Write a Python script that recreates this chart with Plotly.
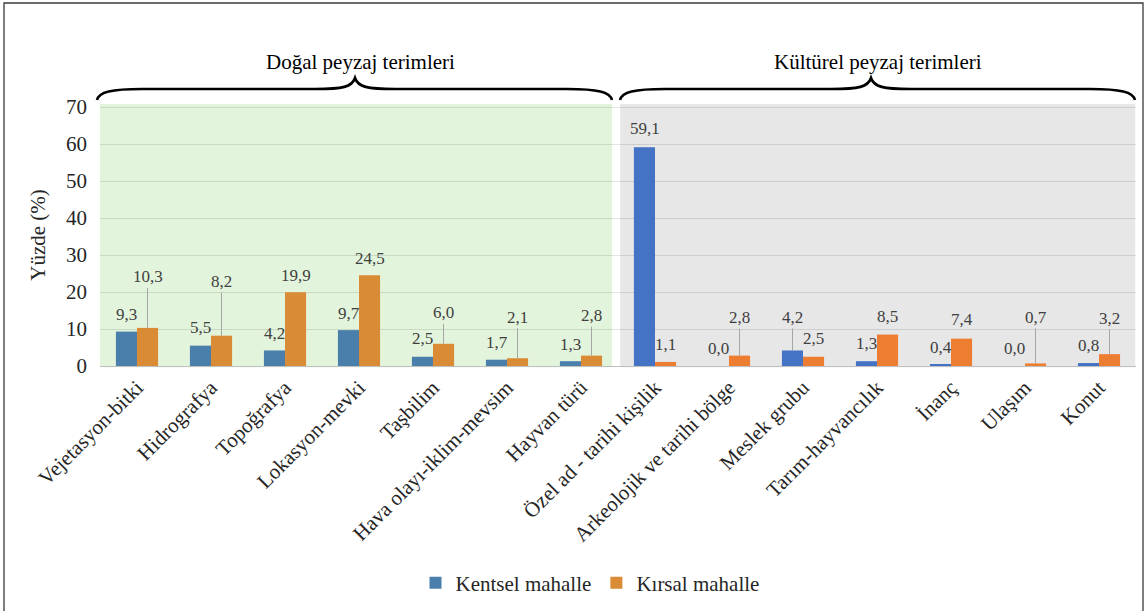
import plotly.graph_objects as go

categories = ["Vejetasyon-bitki", "Hidrografya", "Topoğrafya", "Lokasyon-mevki", "Taşbilim",
              "Hava olayı-iklim-mevsim", "Hayvan türü", "Özel ad - tarihi kişilik",
              "Arkeolojik ve tarihi bölge", "Meslek grubu", "Tarım-hayvancılık", "İnanç",
              "Ulaşım", "Konut"]
kentsel = [9.3, 5.5, 4.2, 9.7, 2.5, 1.7, 1.3, 59.1, 0.0, 4.2, 1.3, 0.4, 0.0, 0.8]
kirsal = [10.3, 8.2, 19.9, 24.5, 6.0, 2.1, 2.8, 1.1, 2.8, 2.5, 8.5, 7.4, 0.7, 3.2]
group_titles = ["Doğal peyzaj terimleri", "Kültürel peyzaj terimleri"]
y_ticks = [0, 10, 20, 30, 40, 50, 60, 70]

# label placement (pixels above bar top; leader line when large)
off_k = [17, 18, 17, 17, 18, 17, 17, 19, 18, 33, 18, 17, 18, 18]
off_r = [51, 54, 17, 17, 31, 41, 40, 17, 38, 18, 18, 19, 46, 36]
leader_k = [False] * 9 + [True] + [False] * 4
leader_r = [True, True, False, False, True, True, True, False, True, False, False, False, True, True]

SERIF = "Liberation Serif, Times New Roman, DejaVu Serif, serif"

W, H = 1146, 611
L, R = 100, 1136
T, B = 104, 366
PH = B - T


def px(X):
    return (X - L) / (R - L)


def py(Y):
    return (B - Y) / PH


def fmt(v):
    return f"{v:.1f}".replace(".", ",")


col_k = ["#4a7fab"] * 7 + ["#4472c4"] * 7
col_r = ["#d98b35"] * 7 + ["#ed7d31"] * 7

fig = go.Figure()
fig.add_bar(x=categories, y=kentsel, name="Kentsel mahalle", marker=dict(color=col_k, line=dict(width=0)))
fig.add_bar(x=categories, y=kirsal, name="Kırsal mahalle", marker=dict(color=col_r, line=dict(width=0)))

shapes = []
n = len(categories)
# background regions
shapes.append(dict(type="rect", xref="x", yref="paper", x0=-0.54, x1=6.42, y0=-0.005, y1=1.0,
                   fillcolor="#e3f4dc", line=dict(width=0), layer="below"))
shapes.append(dict(type="rect", xref="x", yref="paper", x0=6.53, x1=13.49, y0=-0.005, y1=1.0,
                   fillcolor="#e7e7e7", line=dict(width=0), layer="below"))


def brace(x0, x1, xm):
    yb, yf, yp = 100, 89, 78
    pts = [("M", [(x0, yb)]),
           ("C", [(x0 + 2, 92), (x0 + 14, yf), (x0 + 45, yf)]),
           ("L", [(xm - 40, yf)]),
           ("C", [(xm - 12, yf), (xm - 3, 87), (xm, yp)]),
           ("C", [(xm + 3, 87), (xm + 12, yf), (xm + 40, yf)]),
           ("L", [(x1 - 45, yf)]),
           ("C", [(x1 - 14, yf), (x1 - 2, 92), (x1, yb)])]
    s = ""
    for cmd, p in pts:
        s += cmd + " " + " ".join(f"{px(a):.5f},{py(b):.5f}" for a, b in p) + " "
    return dict(type="path", xref="paper", yref="paper", path=s.strip(),
                line=dict(color="black", width=2.6), fillcolor="rgba(0,0,0,0)")


shapes.append(brace(97, 612, 355))
shapes.append(brace(620, 1135, 871))
# outer frame
shapes.append(dict(type="rect", xref="paper", yref="paper", x0=px(4), x1=px(1143), y0=py(3), y1=py(640),
                   line=dict(color="#3a3a3a", width=1.3), fillcolor="rgba(0,0,0,0)"))

annotations = []
lab_font = dict(family=SERIF, size=17, color="#404040")
for i, c in enumerate(categories):
    for val, off, lead, xs in ((kentsel[i], off_k[i], leader_k[i], -10.5), (kirsal[i], off_r[i], leader_r[i], 10.5)):
        if lead:
            annotations.append(dict(x=c, y=val, xref="x", yref="y", text=fmt(val), showarrow=True,
                                    ax=0, ay=-off, arrowhead=0, arrowwidth=1, arrowcolor="#a6a6a6",
                                    standoff=0, xshift=xs, font=lab_font))
        else:
            annotations.append(dict(x=c, y=val, xref="x", yref="y", text=fmt(val), showarrow=False,
                                    yshift=off, xshift=xs, font=lab_font))

for title, cx in zip(group_titles, (360, 878)):
    annotations.append(dict(x=px(cx), y=py(62), xref="paper", yref="paper", text=title,
                            xanchor="center", yanchor="middle", showarrow=False,
                            font=dict(family=SERIF, size=21, color="black")))

fig.update_layout(
    width=W, height=H,
    margin=dict(l=L, r=W - R, t=T, b=H - B, autoexpand=False),
    paper_bgcolor="white", plot_bgcolor="white",
    barmode="group", bargap=0.43, bargroupgap=0,
    font=dict(family=SERIF, size=21, color="#262626"),
    shapes=shapes, annotations=annotations,
    legend=dict(orientation="h", x=px(590), xanchor="center", y=py(583), yanchor="middle",
                font=dict(family=SERIF, size=21, color="#262626"),
                itemwidth=30, traceorder="normal"),
    showlegend=True,
)
fig.update_xaxes(type="category", tickangle=-45, showgrid=False, showline=True, linecolor="#bfbfbf",
                 linewidth=1, ticks="", tickfont=dict(family=SERIF, size=21, color="#262626"),
                 range=[-0.5, n - 0.5])
fig.update_yaxes(range=[0, 70 * PH / (B - 107)], tickvals=y_ticks, showgrid=True,
                 gridcolor="rgba(0,0,0,0.11)", gridwidth=1, zeroline=False, showline=False, ticks="",
                 ticklabelstandoff=12,
                 tickfont=dict(family=SERIF, size=21, color="#262626"),
                 title=dict(text="Yüzde (%)", standoff=14,
                            font=dict(family=SERIF, size=21, color="#262626")))

fig.write_html("out.html", config={"displayModeBar": False},
               post_script="document.body.style.margin='0';document.body.style.overflow='hidden';")
